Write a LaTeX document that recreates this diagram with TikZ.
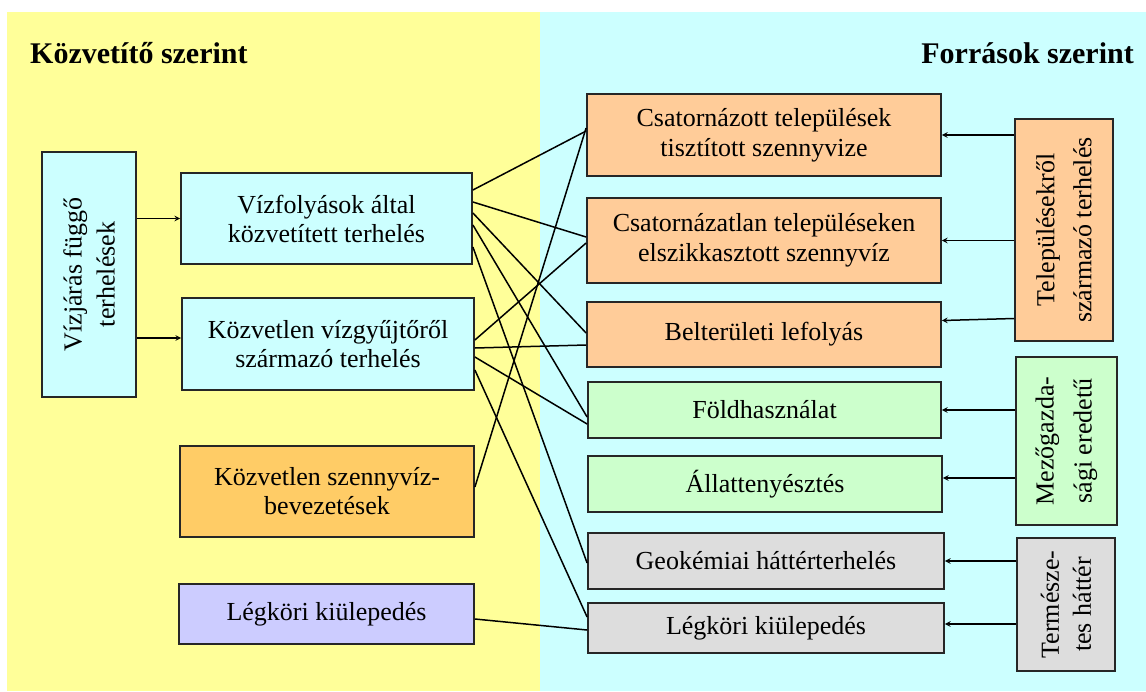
\documentclass[tikz,border=0pt]{standalone}
\usepackage{fontspec}
\setmainfont{Liberation Serif}
\usepackage{tikz}
\usetikzlibrary{shapes,arrows,positioning}

\definecolor{bgyellow}{HTML}{FFFF99}
\definecolor{bgcyan}{HTML}{CCFFFF}
\definecolor{boxcyan}{HTML}{CCFFFF}
\definecolor{boxorange}{HTML}{FFCC99}
\definecolor{boxgold}{HTML}{FFCC66}
\definecolor{boxlilac}{HTML}{CCCCFF}
\definecolor{boxgreen}{HTML}{CCFFCC}
\definecolor{boxgrey}{HTML}{DDDDDD}

\begin{document}
\begin{tikzpicture}[
  x=1pt, y=-1pt,
  box/.style={rectangle, draw=black!85, line width=1.8pt, inner sep=0pt, align=center, font=\fontsize{26}{30}\selectfont},
  vbox/.style={box, rotate=90},
  title/.style={inner sep=0pt, font=\bfseries\fontsize{30}{36}\selectfont},
  arrow/.style={->,>=stealth,line width=1.5pt},
  link/.style={line width=1.5pt}
]
\useasboundingbox (0,0) rectangle (1146,691);

% Background halves
\fill[bgyellow] (7,12) rectangle (540,691);
\fill[bgcyan] (540,12) rectangle (1146,691);

% Titles
\node[title, anchor=base west] (ttlleft) at (30,63) {Közvetítő szerint};
\node[title, anchor=base east] (ttlright) at (1134,63) {Források szerint};

% Left side (by carrier)
\node[vbox, fill=boxcyan, minimum width=245, minimum height=94, font=\fontsize{26}{33}\selectfont] (vizjaras) at (89,274.5) {Vízjárás függő\\terhelések};
\node[box, fill=boxcyan, minimum width=291, minimum height=91, font=\fontsize{26}{29}\selectfont] (vizfoly) at (326.5,218.5) {Vízfolyások által\\közvetített terhelés};
\node[box, fill=boxcyan, minimum width=292, minimum height=92, font=\fontsize{26}{29}\selectfont] (kozvetlen) at (328,344) {Közvetlen vízgyűjtőről\\származó terhelés};
\node[box, fill=boxgold, minimum width=294, minimum height=91, font=\fontsize{26}{29}\selectfont] (szennyviz) at (327,491.5) {Közvetlen szennyvíz-\\bevezetések};
\node[box, fill=boxlilac, minimum width=295, minimum height=60] (legkorl) at (326.5,614) {Légköri kiülepedés};

% Right side (by source)
\node[box, fill=boxorange, minimum width=354, minimum height=82] (csat) at (764,135) {Csatornázott települések\\tisztított szennyvize};
\node[box, fill=boxorange, minimum width=354, minimum height=85] (csatlan) at (764,240.5) {Csatornázatlan településeken\\elszikkasztott szennyvíz};
\node[box, fill=boxorange, minimum width=354, minimum height=65] (belter) at (764,334.5) {Belterületi lefolyás};
\node[box, fill=boxgreen, minimum width=353, minimum height=56] (fold) at (764.5,410) {Földhasználat};
\node[box, fill=boxgreen, minimum width=354, minimum height=56] (allat) at (765,484) {Állattenyésztés};
\node[box, fill=boxgrey, minimum width=356, minimum height=56] (geokem) at (766,561) {Geokémiai háttérterhelés};
\node[box, fill=boxgrey, minimum width=356, minimum height=50] (legkorr) at (766,628) {Légköri kiülepedés};

\node[vbox, fill=boxorange, minimum width=222, minimum height=98, font=\fontsize{26}{37}\selectfont] (telep) at (1064,230) {Településekről\\származó terhelés};
\node[vbox, fill=boxgreen, minimum width=168, minimum height=101, font=\fontsize{26}{38}\selectfont] (mezo) at (1066.5,441) {Mezőgazda-\\sági eredetű};
\node[vbox, fill=boxgrey, minimum width=133, minimum height=98, font=\fontsize{26}{32}\selectfont] (termesz) at (1066,604.5) {Természe-\\tes háttér};

% Arrows (rotated boxes: south = right edge, north = left edge)
\draw[arrow] (vizjaras.south |- vizfoly.west) -- (vizfoly.west);
\draw[arrow] ([yshift=6pt]vizjaras.south |- kozvetlen.west) -- ([yshift=6pt]kozvetlen.west);

\draw[arrow] (telep.north |- csat.east) -- (csat.east);
\draw[arrow] (telep.north |- csatlan.east) -- (csatlan.east);
\draw[arrow] ([yshift=16pt]telep.north |- belter.east) -- ([yshift=14pt]belter.east);
\draw[arrow] (mezo.north |- fold.east) -- (fold.east);
\draw[arrow] ([yshift=6pt]mezo.north |- allat.east) -- ([yshift=6pt]allat.east);
\draw[arrow] (termesz.north |- geokem.east) -- (geokem.east);
\draw[arrow] ([yshift=4pt]termesz.north |- legkorr.east) -- ([yshift=4pt]legkorr.east);

% Links between carriers and sources
\draw[link] ([yshift=28.5pt]vizfoly.east) -- ([yshift=4pt]csat.west);
\draw[link] ([yshift=16.5pt]vizfoly.east) -- ([yshift=3.5pt]csatlan.west);
\draw[link] ([yshift=5.5pt]vizfoly.east) -- ([yshift=1.5pt]belter.west);
\draw[link] ([yshift=-6.5pt]vizfoly.east) -- ([yshift=-7pt]fold.west);
\draw[link] ([yshift=-28.5pt]vizfoly.east) -- ([yshift=-2pt]geokem.west);

\draw[link] ([yshift=4pt]kozvetlen.east) -- ([yshift=-2.5pt]csatlan.west);
\draw[link] ([yshift=-4pt]kozvetlen.east) -- ([yshift=-10.5pt]belter.west);
\draw[link] ([yshift=-13pt]kozvetlen.east) -- ([yshift=-14pt]fold.west);
\draw[link] ([yshift=-26pt]kozvetlen.east) -- ([yshift=11pt]legkorr.west);

\draw[link] ([yshift=4.5pt]szennyviz.east) -- ([yshift=7pt]csat.west);
\draw[link] ([yshift=-5pt]legkorl.east) -- ([yshift=-2pt]legkorr.west);

\end{tikzpicture}
\end{document}
